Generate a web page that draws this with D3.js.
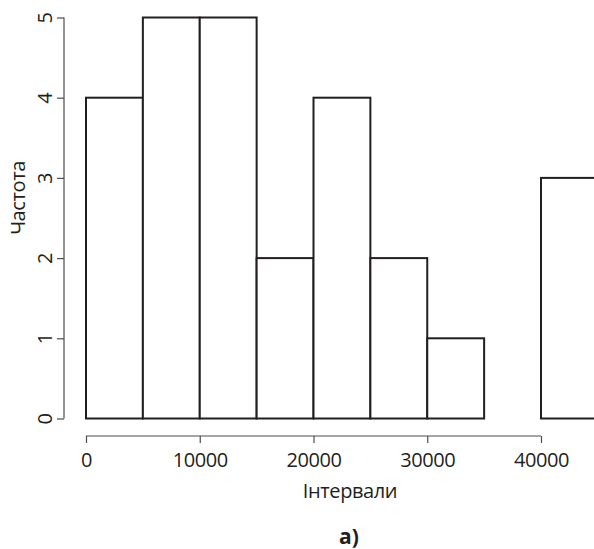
<!DOCTYPE html>
<html>
<head>
<meta charset="utf-8">
<script src="https://cdn.jsdelivr.net/npm/d3@7"></script>
<style>
  html, body { margin: 0; padding: 0; background: #fff; }
  svg { display: block; }
  text { font-family: "Open Sans", "Noto Sans", sans-serif; fill: #231f20; }
</style>
</head>
<body>
<script>
// Data
const binStarts = [0, 5000, 10000, 15000, 20000, 25000, 30000, 35000, 40000];
const binWidth = 5000;
const counts = [4, 5, 5, 2, 4, 2, 1, 0, 3];
const xTicks = [0, 10000, 20000, 30000, 40000];
const yTicks = [0, 1, 2, 3, 4, 5];
const xLabel = "Інтервали";
const yLabel = "Частота";
const caption = "а)";

const W = 594, H = 549;
const svg = d3.select("body").append("svg").attr("width", W).attr("height", H);

const x = d3.scaleLinear().domain([0, 40000]).range([86, 541]);
const y = d3.scaleLinear().domain([0, 5]).range([418.5, 17.5]);

const ink = "#231f20";

// bars
svg.append("g").selectAll("rect")
  .data(binStarts.map((s, i) => ({ s, c: counts[i] })))
  .join("rect")
  .attr("x", d => x(d.s))
  .attr("y", d => y(d.c))
  .attr("width", d => x(d.s + binWidth) - x(d.s))
  .attr("height", d => y(0) - y(d.c))
  .attr("fill", "#fff")
  .attr("stroke", ink)
  .attr("stroke-width", 2);

// y axis
const yAxis = d3.axisLeft(y).tickValues(yTicks).tickSize(7).tickPadding(5).tickFormat(d3.format("d"));
const gy = svg.append("g").attr("transform", "translate(64,0)").call(yAxis);
gy.select(".domain").attr("stroke", "#4d4d4d").attr("stroke-width", 1.2).attr("d", `M0,${y(0)}V${y(5)}`);
gy.selectAll(".tick line").attr("stroke", "#4d4d4d").attr("stroke-width", 1.2);
gy.selectAll(".tick text")
  .attr("font-size", 20).attr("letter-spacing", "-0.4px")
  .attr("fill", ink)
  .attr("transform", "rotate(-90)")
  .attr("x", 0).attr("y", -13)
  .attr("dy", 0)
  .attr("text-anchor", "middle")
  .each(function(d) {
    d3.select(this).attr("transform", `translate(0,0) rotate(-90)`);
  });
// reposition y tick labels: rotated text centered at tick
gy.selectAll(".tick").each(function(d) {
  const t = d3.select(this).select("text");
  t.attr("transform", `translate(-12,0) rotate(-90)`).attr("x", 0).attr("y", 0).attr("dy", 0);
});

// x axis
const xAxis = d3.axisBottom(x).tickValues(xTicks).tickSize(7).tickPadding(7).tickFormat(d3.format("d"));
const gx = svg.append("g").attr("transform", "translate(0,436)").call(xAxis);
gx.select(".domain").attr("stroke", "#4d4d4d").attr("stroke-width", 1.2).attr("d", `M${x(0)},0H${x(40000)}`);
gx.selectAll(".tick line").attr("stroke", "#4d4d4d").attr("stroke-width", 1.2);
gx.selectAll(".tick text")
  .attr("font-size", 20).attr("letter-spacing", "-0.4px")
  .attr("fill", ink)
  .attr("y", 31).attr("dy", 0);

// axis titles
svg.append("text")
  .attr("x", 350).attr("y", 498)
  .attr("text-anchor", "middle")
  .attr("font-size", 20).attr("letter-spacing", "-0.4px")
  .text(xLabel);

svg.append("text")
  .attr("transform", "translate(25,198) rotate(-90)")
  .attr("text-anchor", "middle")
  .attr("font-size", 20).attr("letter-spacing", "-0.4px")
  .text(yLabel);

svg.append("text")
  .attr("x", 349).attr("y", 544)
  .attr("text-anchor", "middle")
  .attr("font-size", 21).attr("font-weight", "bold")
  .text(caption);
</script>
</body>
</html>
